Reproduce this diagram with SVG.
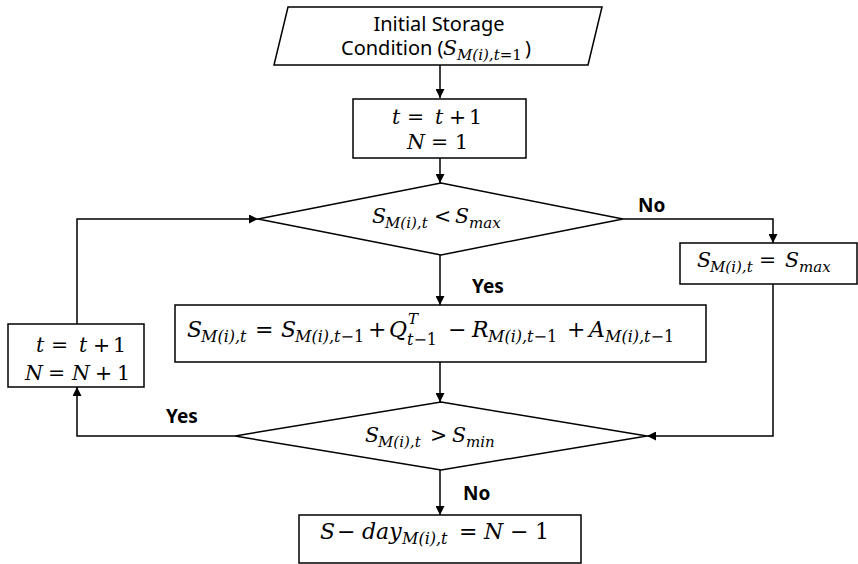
<svg xmlns="http://www.w3.org/2000/svg" width="858" height="564" viewBox="0 0 858 564">
<style>
.shape{fill:#fff;stroke:#000;stroke-width:1.5}
.conn{fill:none;stroke:#000;stroke-width:1.5}
.lbl{font-family:"Noto Sans","Liberation Sans",sans-serif;font-size:19px;fill:#000}
.big{font-size:20px}
.b{font-weight:bold}
.m{font-family:"DejaVu Serif","Liberation Serif",serif;font-style:italic;font-size:20.5px;fill:#000}
.l{font-size:22px}
.sb{font-size:15px}
.sl{font-size:16px}
.op{font-style:normal}
</style>
<defs>
<marker id="ah" viewBox="0 0 10 10" refX="10" refY="5" markerWidth="9" markerHeight="9" markerUnits="userSpaceOnUse" orient="auto">
<path d="M0,0 L10,5 L0,10 z" fill="#000"/>
</marker>
</defs>
<rect width="858" height="564" fill="#fff"/>

<g id="connectors">
<path class="conn" d="M440,65 V98" marker-end="url(#ah)"/>
<path class="conn" d="M440,158 V183" marker-end="url(#ah)"/>
<path class="conn" d="M440,255 V305" marker-end="url(#ah)"/>
<path class="conn" d="M623,219 H773 V243" marker-end="url(#ah)"/>
<path class="conn" d="M773,284 V436 H647" marker-end="url(#ah)"/>
<path class="conn" d="M440,362 V402" marker-end="url(#ah)"/>
<path class="conn" d="M235,436 H77 V387" marker-end="url(#ah)"/>
<path class="conn" d="M77,324 V219 H258" marker-end="url(#ah)"/>
<path class="conn" d="M440,470 V515" marker-end="url(#ah)"/>
<text class="lbl b" x="638" y="212">No</text>
<text class="lbl b" x="472" y="293">Yes</text>
<text class="lbl b" x="166" y="423">Yes</text>
<text class="lbl b" x="463" y="500">No</text>
</g>

<g id="init">
<polygon class="shape" points="288,7 602,7 588,65 274,65"/>
<text class="lbl big" x="439" y="31" text-anchor="middle">Initial Storage</text>
<text class="lbl big" x="341" y="55">Condition (<tspan class="m" x="443" y="55">S</tspan><tspan class="m sb" x="457" y="60">M(i),t<tspan class="op">=1</tspan></tspan><tspan x="525" y="55">)</tspan></text>
</g>

<g id="step">
<rect class="shape" x="353" y="99" width="173" height="59"/>
<text class="m"><tspan x="392" y="124">t</tspan><tspan class="op" x="407" y="124">=</tspan><tspan x="435" y="124">t</tspan><tspan class="op" x="449" y="124">+</tspan><tspan class="op" x="469" y="124">1</tspan></text>
<text class="m"><tspan x="407" y="149">N</tspan><tspan class="op" x="431" y="149">=</tspan><tspan class="op" x="455" y="149">1</tspan></text>
</g>

<g id="check-max">
<polygon class="shape" points="441,183 623,219 441,255 258,219"/>
<text class="m"><tspan x="372" y="223">S</tspan><tspan class="sb" x="385" y="228">M(i),t</tspan><tspan class="op" x="434" y="223">&lt;</tspan><tspan x="455" y="223">S</tspan><tspan class="sb" x="469" y="228">max</tspan></text>
</g>

<g id="set-max">
<rect class="shape" x="680" y="243" width="177" height="41"/>
<text class="m"><tspan x="697" y="267">S</tspan><tspan class="sb" x="710" y="272">M(i),t</tspan><tspan class="op" x="759" y="267">=</tspan><tspan x="785" y="267">S</tspan><tspan class="sb" x="799" y="272">max</tspan></text>
</g>

<g id="update">
<rect class="shape" x="175" y="305" width="531" height="57"/>
<text class="m l"><tspan x="187" y="337">S</tspan><tspan class="sl" x="201" y="342">M(i),t</tspan><tspan class="op" x="255" y="337">=</tspan><tspan x="281" y="337">S</tspan><tspan class="sl" x="295" y="342">M(i),t<tspan class="op">−1</tspan></tspan><tspan class="op" x="368" y="337">+</tspan><tspan x="389" y="337">Q</tspan></text>
<text class="m sb" x="408" y="324">T</text>
<text class="m sl"><tspan x="407" y="345">t<tspan class="op">−1</tspan></tspan></text>
<text class="m l"><tspan class="op" x="448" y="337">−</tspan><tspan x="472" y="337">R</tspan><tspan class="sl" x="488" y="342">M(i),t<tspan class="op">−1</tspan></tspan><tspan class="op" x="567" y="337">+</tspan><tspan x="589" y="337">A</tspan><tspan class="sl" x="605" y="342">M(i),t<tspan class="op">−1</tspan></tspan></text>
</g>

<g id="check-min">
<polygon class="shape" points="441,402 647,436 441,470 235,436"/>
<text class="m"><tspan x="365" y="442">S</tspan><tspan class="sb" x="378" y="447">M(i),t</tspan><tspan class="op" x="430" y="442">&gt;</tspan><tspan x="452" y="442">S</tspan><tspan class="sb" x="466" y="447">min</tspan></text>
</g>

<g id="increment">
<rect class="shape" x="8" y="324" width="136" height="63"/>
<text class="m"><tspan x="36" y="352">t</tspan><tspan class="op" x="51" y="352">=</tspan><tspan x="79" y="352">t</tspan><tspan class="op" x="93" y="352">+</tspan><tspan class="op" x="113" y="352">1</tspan></text>
<text class="m"><tspan x="25" y="380">N</tspan><tspan class="op" x="48" y="380">=</tspan><tspan x="72" y="380">N</tspan><tspan class="op" x="95" y="380">+</tspan><tspan class="op" x="117" y="380">1</tspan></text>
</g>

<g id="result">
<rect class="shape" x="299" y="515" width="282" height="48"/>
<text class="m l"><tspan x="320" y="539">S</tspan><tspan class="op" x="337" y="539">−</tspan><tspan x="362" y="539">day</tspan><tspan class="sl" x="402" y="544">M(i),t</tspan><tspan class="op" x="459" y="539">=</tspan><tspan x="484" y="539">N</tspan><tspan class="op" x="510" y="539">−</tspan><tspan class="op" x="535" y="539">1</tspan></text>
</g>
</svg>
